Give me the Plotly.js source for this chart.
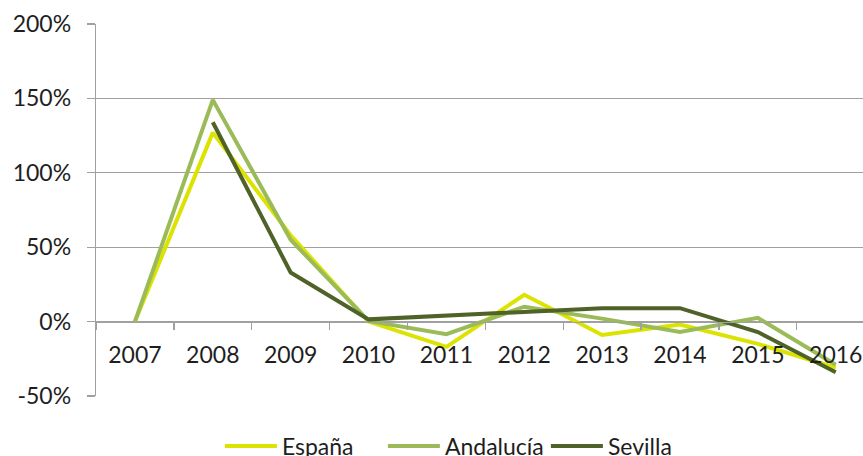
<!DOCTYPE html>
<html>
<head>
<meta charset="utf-8">
<script src="https://cdn.plot.ly/plotly-3.0.1.min.js"></script>
<style>
  html, body { margin: 0; padding: 0; background: #fff; }
  #chart { width: 863px; height: 456px; }
</style>
</head>
<body>
<div id="chart"></div>
<script>
// Year-on-year change (%) by territory
const years = ['2007', '2008', '2009', '2010', '2011', '2012', '2013', '2014', '2015', '2016'];
const espana    = [0, 127, 58, 0, -17, 18, -9, -2, -15, -31];
const andalucia = [0, 149, 55, 0.5, -8.5, 10, 2, -7, 2.5, -29];
const sevilla   = [null, 134, 33, 1.5, 4, 6, 9, 9, -7, -34];
const yTicks = [-50, 0, 50, 100, 150, 200];

const FONT = 'Lato, "Open Sans", sans-serif';
const TEXT = '#1e1e1e';

function series(name, values, color) {
  return {
    type: 'scatter',
    mode: 'lines',
    name: name,
    x: years,
    y: values,
    connectgaps: false,
    line: { color: color, width: 4 },
    hoverinfo: 'skip'
  };
}

const data = [
  series('España', espana, '#DCE300'),
  series('Andalucía', andalucia, '#9BBB59'),
  series('Sevilla', sevilla, '#4F6228')
];

const layout = {
  width: 863,
  height: 456,
  margin: { l: 96, r: 0, t: 24, b: 60, autoexpand: false },
  paper_bgcolor: '#ffffff',
  plot_bgcolor: '#ffffff',
  font: { family: FONT, size: 23, color: TEXT },
  showlegend: true,
  legend: {
    orientation: 'h',
    xref: 'container',
    yref: 'container',
    x: 0.2548,
    xanchor: 'left',
    y: 0.022,
    yanchor: 'middle',
    font: { family: FONT, size: 23, color: TEXT },
    itemwidth: 52,
    entrywidth: 96,
    traceorder: 'normal'
  },
  xaxis: {
    type: 'category',
    range: [-0.5, 9.35],
    anchor: 'free',
    position: 0.2,
    automargin: false,
    tickangle: 0,
    showline: true,
    linecolor: '#a0a0a0',
    linewidth: 1.3,
    showgrid: false,
    ticks: 'outside',
    tickson: 'boundaries',
    ticklen: 7,
    tickcolor: '#a0a0a0',
    tickwidth: 1.3,
    ticklabelstandoff: 12,
    tickfont: { family: FONT, size: 23, color: TEXT },
    zeroline: false,
    fixedrange: true
  },
  yaxis: {
    range: [-50, 200],
    automargin: false,
    tickvals: yTicks,
    ticktext: yTicks.map(v => v + '%'),
    showgrid: true,
    gridcolor: '#a0a0a0',
    gridwidth: 1.3,
    showline: true,
    linecolor: '#a0a0a0',
    linewidth: 1.3,
    ticks: 'outside',
    ticklen: 8,
    tickcolor: '#a0a0a0',
    tickwidth: 1.3,
    ticklabelstandoff: 11,
    tickfont: { family: FONT, size: 23, color: TEXT },
    zeroline: false,
    fixedrange: true
  }
};

Plotly.newPlot('chart', data, layout, { staticPlot: true, displayModeBar: false });
</script>
</body>
</html>
